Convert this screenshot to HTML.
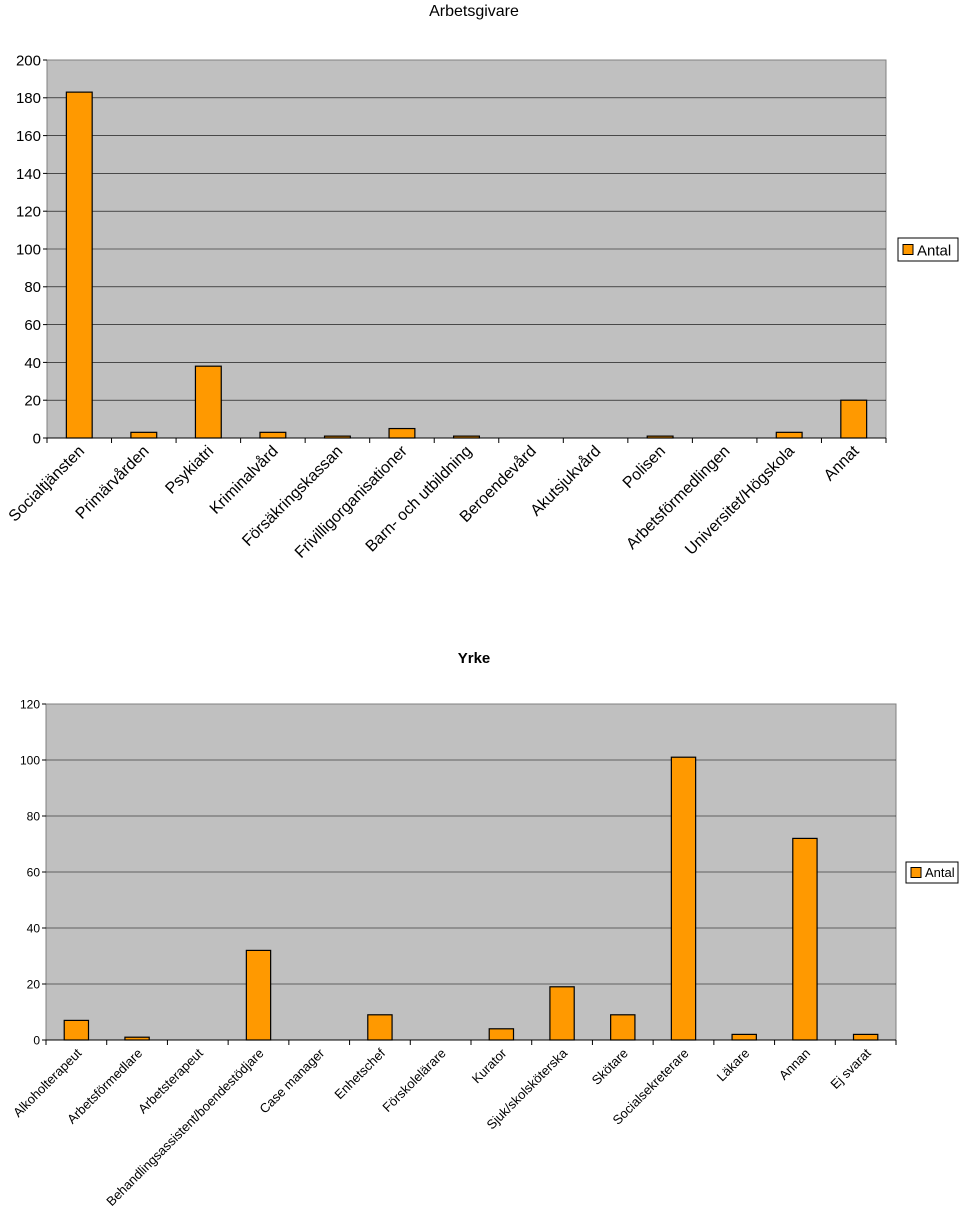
<!DOCTYPE html>
<html><head><meta charset="utf-8"><style>
body{margin:0;background:#fff;}
svg{display:block;font-family:"Liberation Sans",sans-serif;}
</style></head><body>
<svg id="s" width="960" height="1224">
<text x="474" y="16" font-size="16" text-anchor="middle">Arbetsgivare</text>
<text x="474" y="663" font-size="15" font-weight="bold" text-anchor="middle">Yrke</text>
</svg>
<script>
const cats1=["Socialtjänsten","Primärvården","Psykiatri","Kriminalvård","Försäkringskassan","Frivilligorganisationer","Barn- och utbildning","Beroendevård","Akutsjukvård","Polisen","Arbetsförmedlingen","Universitet/Högskola","Annat"];
const vals1=[183,3,38,3,1,5,1,0,0,1,0,3,20];
const ticks1=[0,20,40,60,80,100,120,140,160,180,200];
const cats2=["Alkoholterapeut","Arbetsförmedlare","Arbetsterapeut","Behandlingsassistent/boendestödjare","Case manager","Enhetschef","Förskolelärare","Kurator","Sjuk/skolsköterska","Skötare","Socialsekreterare","Läkare","Annan","Ej svarat"];
const vals2=[7,1,0,32,0,9,0,4,19,9,101,2,72,2];
const ticks2=[0,20,40,60,80,100,120];
const NS="http://www.w3.org/2000/svg";
const svg=document.getElementById('s');
function mk(t,a,txt){const e=document.createElementNS(NS,t);for(const k in a)e.setAttribute(k,a[k]);if(txt!==undefined)e.textContent=txt;svg.appendChild(e);return e;}
function chart(id,cats,vals,ticks,L,R,T,B,fs,tfs,lg){
  const max=ticks[ticks.length-1];
  const y=v=>B-(v/max)*(B-T);
  const w=(R-L)/cats.length;
  const x=i=>L+i*w;
  let p=mk('rect',{x:L,y:T,width:R-L,height:B-T,fill:'#c0c0c0',stroke:'#808080'});
  
  
  ticks.forEach(t=>{
    if(t>0&&t<max){let g=mk('line',{x1:L,x2:R,y1:y(t),y2:y(t),stroke:'#000','stroke-width':0.6});
    
    }
    mk('line',{x1:L-4,x2:L,y1:y(t),y2:y(t),stroke:'#000'});
    let tl=mk('text',{x:L-6,y:y(t)+tfs*0.36,'font-size':tfs,'text-anchor':'end'},t);
    
    
  });
  mk('line',{x1:L,x2:R,y1:B,y2:B,stroke:'#000'});
  for(let i=0;i<=cats.length;i++)mk('line',{x1:x(i),x2:x(i),y1:B,y2:B+5,stroke:'#000'});
  cats.forEach((c,i)=>{
    const cx=x(i)+w/2;
    if(vals[i]>0){let b=mk('rect',{x:cx-w*0.2,y:y(vals[i]),width:w*0.4,height:B-y(vals[i]),fill:'#ff9900',stroke:'#000','stroke-width':1.2});
    
    }
    let t=mk('text',{x:0,y:0,'font-size':fs,'text-anchor':'end',transform:`translate(${cx+6},${B+14}) rotate(-45)`},c);
    
    
  });
  let lr=mk('rect',{x:lg[0],y:lg[1],width:lg[2],height:lg[3],fill:'#fff',stroke:'#000'});
  
  
  mk('rect',{x:lg[0]+5,y:lg[1]+lg[3]/2-5,width:10,height:10,fill:'#ff9900',stroke:'#000'});
  let lt=mk('text',{x:lg[0]+19,y:lg[1]+lg[3]/2+fs*0.36,'font-size':lg[4]},'Antal');
  
  
}
chart('chart1',cats1,vals1,ticks1,47,886,60,438,16,15,[898,238,60,23,15]);
chart('chart2',cats2,vals2,ticks2,46,896,704,1040,13,12,[906,862,52,21,13]);
</script>
</body></html>
